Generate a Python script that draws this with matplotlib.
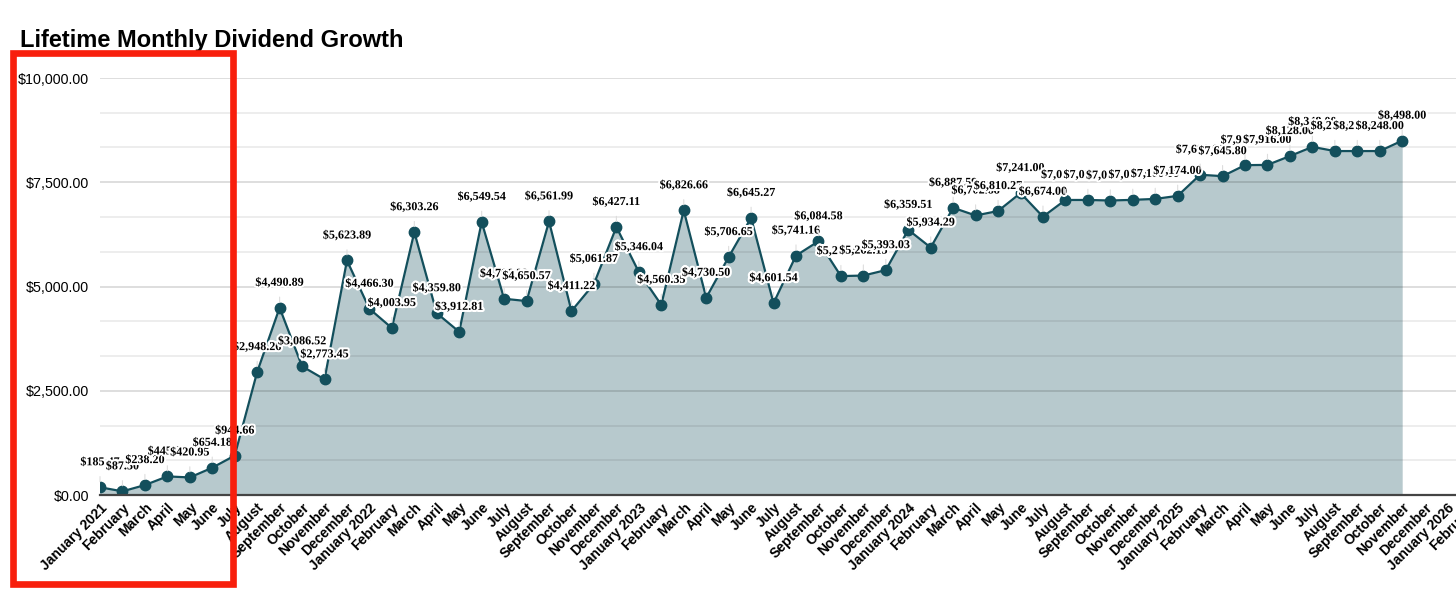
import matplotlib.pyplot as plt
import matplotlib.patheffects as pe
from matplotlib.patches import Rectangle
from matplotlib.ticker import FuncFormatter, MultipleLocator

# monthly dividend totals, Jan 2021 .. Nov 2025
dividends = [
    185.47, 87.50, 238.20, 445.91, 420.95, 654.18, 944.66, 2948.26, 4490.89, 3086.52, 2773.45, 5623.89,
    4466.30, 4003.95, 6303.26, 4359.80, 3912.81, 6549.54, 4706.23, 4650.57, 6561.99, 4411.22, 5061.87, 6427.11,
    5346.04, 4560.35, 6826.66, 4730.50, 5706.65, 6645.27, 4601.54, 5741.16, 6084.58, 5249.60, 5262.15, 5393.03,
    6359.51, 5934.29, 6887.59, 6702.88, 6810.27, 7241.00, 6674.00, 7075.00, 7075.00, 7062.00, 7078.00, 7100.00,
    7174.00, 7680.00, 7645.80, 7910.00, 7916.00, 8128.00, 8348.00, 8248.00, 8248.00, 8248.00, 8498.00,
]

month_names = ['January', 'February', 'March', 'April', 'May', 'June', 'July',
               'August', 'September', 'October', 'November', 'December']
years = [2021, 2022, 2023, 2024, 2025, 2026]

# axis categories run a bit past the data (to Feb 2026)
categories = []
for y in years:
    for m, name in enumerate(month_names):
        categories.append(f'{name} {y}' if m == 0 else name)
categories = categories[:62]

line_color = '#134f5c'

fig = plt.figure(figsize=(14.56, 5.91), dpi=100)
W, H = 1456, 591
ax = fig.add_axes([100 / W, (H - 495) / H, 1392 / W, (495 - 78) / H])

x = list(range(len(dividends)))
ax.fill_between(x, dividends, 0, color=line_color, alpha=0.3, lw=0, zorder=1)
ax.plot(x, dividends, color=line_color, lw=1.6, marker='o', markersize=7.5, zorder=3)

# gridlines: labelled every 2500, faint lines in between
ax.yaxis.set_major_locator(MultipleLocator(2500))
ax.yaxis.set_minor_locator(MultipleLocator(2500 / 3))
ax.grid(axis='y', which='major', color='black', alpha=0.17, lw=1.1, zorder=2)
ax.grid(axis='y', which='minor', color='black', alpha=0.09, lw=1.1, zorder=2)
ax.set_axisbelow(False)

ax.set_ylim(0, 10000)
ax.set_xlim(0, 62)
ax.yaxis.set_major_formatter(FuncFormatter(lambda v, p: f'${v:,.2f}'))
ax.tick_params(axis='y', which='both', length=0, pad=8, labelsize=10.3)
for lbl in ax.get_yticklabels():
    lbl.set_fontfamily('Liberation Sans')

ax.set_xticks(range(len(categories)))
ax.set_xticklabels(categories, rotation=45, ha='right', va='top', rotation_mode='anchor',
                   fontsize=10, fontweight='bold', fontfamily='Liberation Sans')
ax.tick_params(axis='x', length=0, pad=4)

for side in ['left', 'right', 'top']:
    ax.spines[side].set_visible(False)
ax.spines['bottom'].set_color('#444444')
ax.spines['bottom'].set_linewidth(1.6)
ax.spines['bottom'].set_zorder(4)

# value labels above each point with thin leader lines
for i, v in enumerate(dividends):
    ax.annotate(f'${v:,.2f}', xy=(i, v), xytext=(0, 18), textcoords='offset points',
                ha='center', va='center', fontsize=8.7, fontweight='bold',
                fontfamily='Liberation Serif', color='black', zorder=5,
                path_effects=[pe.withStroke(linewidth=3, foreground='white')],
                arrowprops=dict(arrowstyle='-', color='#dddddd', lw=0.8,
                                shrinkA=4, shrinkB=4))

fig.text(20 / W, (H - 47) / H, 'Lifetime Monthly Dividend Growth', fontsize=17,
         fontweight='bold', fontfamily='Liberation Sans', va='baseline', ha='left')

# red highlight box around the first months
fig.patches.append(Rectangle((12.7 / W, (H - 584.3) / H), (233.3 - 12.7) / W, (584.3 - 53.3) / H,
                             transform=fig.transFigure, fill=False, edgecolor='#f81f0c',
                             lw=4.8, zorder=10))

fig.savefig('out.png', dpi=100)
